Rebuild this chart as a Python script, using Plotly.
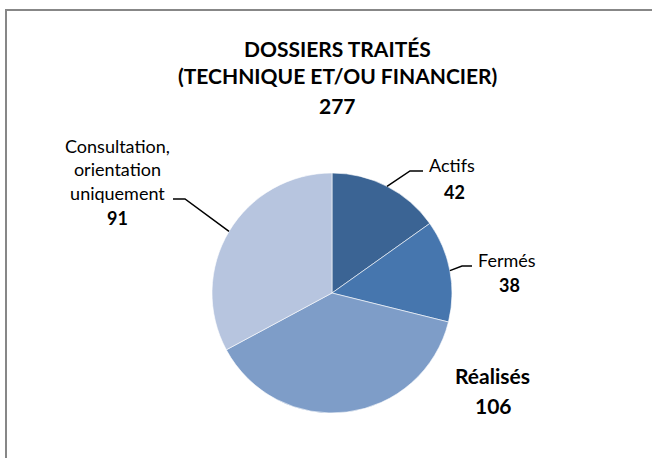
import numpy as np
import plotly.graph_objects as go

### Data

labels = ['Actifs', 'Fermés', 'Réalisés', 'Consultation,<br>orientation<br>uniquement']
values = [42, 38, 106, 91]
colors = ['#3B6494', '#4676AE', '#7E9DC8', '#B7C5DF']
total = sum(values)

W, H = 652, 458
FONT = 'Lato'

# pie placement in pixels
cx, cy, r = 332, 293, 120


def px(x):
    return x / W


def py(y):
    return 1 - y / H


fig = go.Figure()
fig.add_trace(go.Pie(
    labels=labels,
    values=values,
    sort=False,
    direction='clockwise',
    rotation=0,
    marker=dict(colors=colors, line=dict(color='white', width=0.6)),
    textinfo='none',
    hoverinfo='label+value',
    domain=dict(x=[px(cx - r), px(cx + r)], y=[py(cy + r), py(cy - r)]),
    showlegend=False
    ))

### Leader lines anchored on the slice middles

cum = np.cumsum([0] + values)
mid = [(cum[i] + values[i] / 2) / total * 2 * np.pi for i in range(len(values))]


def edge(a):
    return cx + r * np.sin(a), cy - r * np.cos(a)


# (elbow, end) for each labelled slice with a leader line
leaders = {0: ((410, 171), (423, 171)),
           1: ((462, 266), (472, 266)),
           3: ((185, 199), (173, 199))}

for i, (elbow, end) in leaders.items():
    x0, y0 = edge(mid[i])
    path = 'M {} {} L {} {} L {} {}'.format(px(x0), py(y0), px(elbow[0]), py(elbow[1]),
                                           px(end[0]), py(end[1]))
    fig.add_shape(type='path', path=path, xref='paper', yref='paper',
                  line=dict(color='black', width=1.5))

### Labels

txt = [
    (labels[0], 452, 165, 18),
    ('<b>%d</b>' % values[0], 454, 192, 18),
    (labels[1], 507, 260, 18),
    ('<b>%d</b>' % values[1], 509, 285, 18),
    ('<b>%s</b>' % labels[2], 492, 375, 21),
    ('<b>%d</b>' % values[2], 494, 405, 21),
    (labels[3], 117, 169, 18),
    ('<b>%d</b>' % values[3], 117, 218, 18),
]
for t, x, y, s in txt:
    fig.add_annotation(x=px(x), y=py(y), xref='paper', yref='paper', text=t,
                       showarrow=False, xanchor='center', yanchor='middle',
                       font=dict(size=s, color='black', family=FONT))

title_lines = ['DOSSIERS TRAITÉS', '(TECHNIQUE ET/OU FINANCIER)', str(total)]
title_y = [49, 76, 105]
for line, y in zip(title_lines, title_y):
    fig.add_annotation(x=px(337), y=py(y), xref='paper', yref='paper',
                       text='<b>%s</b>' % line, showarrow=False,
                       xanchor='center', yanchor='middle',
                       font=dict(size=21, color='black', family=FONT))

# chart border
fig.add_shape(type='rect', xref='paper', yref='paper', x0=px(6), x1=1.02, y0=-0.02, y1=py(10),
              line=dict(color='#878787', width=2))

fig.update_layout(width=W, height=H, margin=dict(l=0, r=0, t=0, b=0),
                  paper_bgcolor='white', plot_bgcolor='white',
                  font=dict(family=FONT))

# drop the default page margin so the figure sits at the window corner
fig.write_html('out.html', config=dict(displayModeBar=False),
               post_script="document.body.style.margin='0';")
